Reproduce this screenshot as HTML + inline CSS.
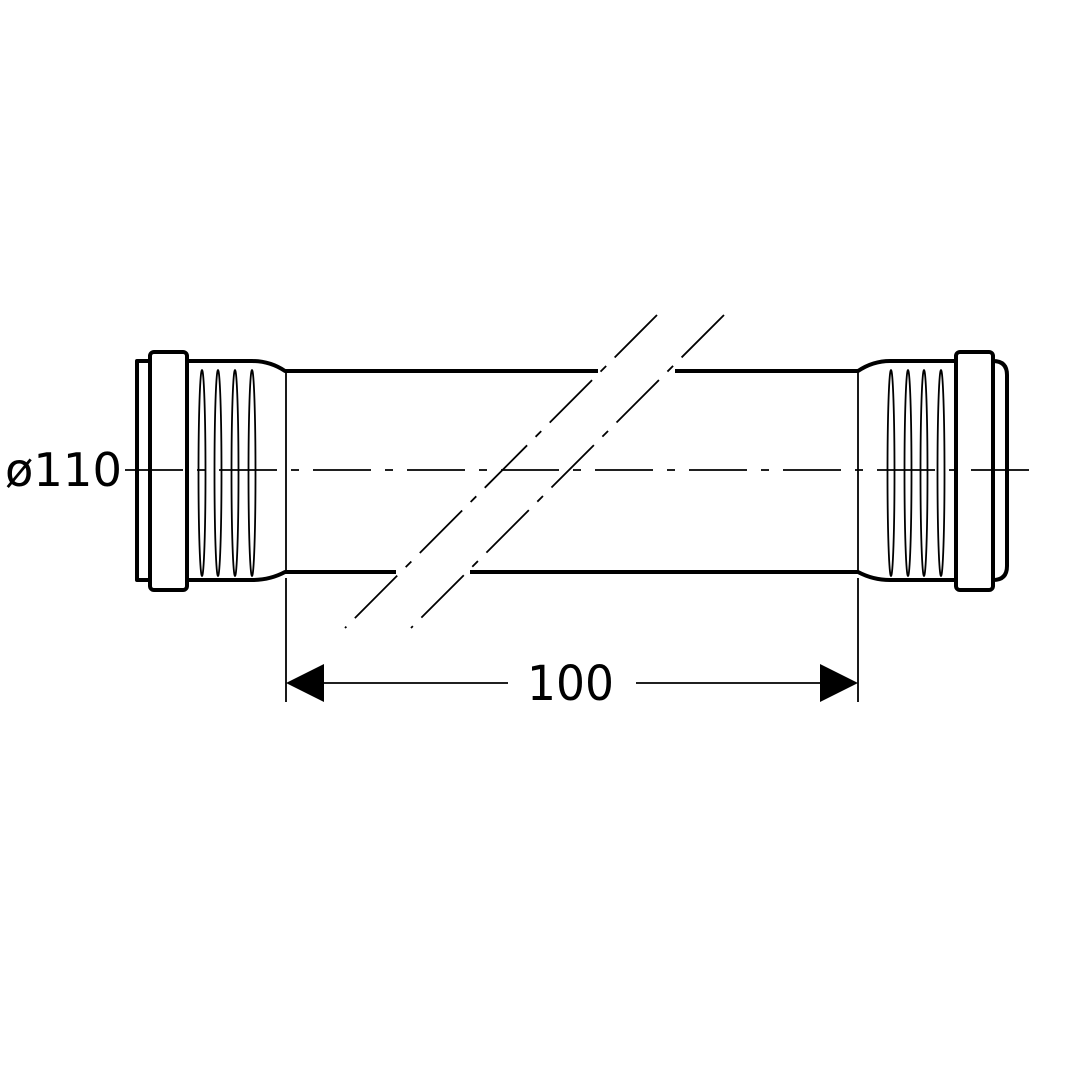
<!DOCTYPE html>
<html><head><style>body{margin:0;background:#fff}svg{display:block}</style></head><body>
<svg width="1080" height="1080" viewBox="0 0 1080 1080" xmlns="http://www.w3.org/2000/svg">
<rect width="1080" height="1080" fill="#fff"/>
<g fill="none" stroke="#000" stroke-linejoin="round">
<path d="M150 361 H137 V580 H150" stroke-width="4"/>
<rect x="150" y="352" width="37" height="238" rx="4" stroke-width="4"/>
<path d="M187 361 H252 Q270 361 285 371 H598" stroke-width="4"/>
<path d="M187 580 H252 Q270 580 285 572 H396" stroke-width="4"/>
<path d="M675 371 H858 Q873 361 890 361 H956" stroke-width="4"/>
<path d="M470 572 H858 Q873 580 890 580 H956" stroke-width="4"/>
<rect x="956" y="352" width="37" height="238" rx="4" stroke-width="4"/>
<path d="M993 361 Q1007 361 1007 375 V566 Q1007 580 993 580" stroke-width="4"/>
<g stroke-width="1.8">
<line x1="286" y1="371" x2="286" y2="572"/>
<line x1="858" y1="371" x2="858" y2="572"/>
<line x1="994" y1="362" x2="994" y2="579"/>
<ellipse cx="202" cy="473" rx="3.5" ry="103"/>
<ellipse cx="218" cy="473" rx="3.5" ry="103"/>
<ellipse cx="235" cy="473" rx="3.5" ry="103"/>
<ellipse cx="252" cy="473" rx="3.5" ry="103"/>
<ellipse cx="891" cy="473" rx="3.5" ry="103"/>
<ellipse cx="908" cy="473" rx="3.5" ry="103"/>
<ellipse cx="924" cy="473" rx="3.5" ry="103"/>
<ellipse cx="941" cy="473" rx="3.5" ry="103"/>
<line x1="125" y1="470" x2="1035" y2="470" stroke-dasharray="58 14 8 14"/>
<line x1="657" y1="315" x2="345" y2="628" stroke-dasharray="60 12 8 12"/>
<line x1="724" y1="315" x2="411" y2="628" stroke-dasharray="60 12 8 12"/>
<line x1="286" y1="578" x2="286" y2="702"/>
<line x1="858" y1="578" x2="858" y2="702"/>
<line x1="320" y1="683" x2="508" y2="683"/>
<line x1="636" y1="683" x2="824" y2="683"/>
</g>
</g>
<polygon points="286,683 324,664 324,702" fill="#000"/>
<polygon points="858,683 820,664 820,702" fill="#000"/>
<text x="527" y="700" font-family="DejaVu Sans, Liberation Sans, sans-serif" font-size="48" textLength="87" lengthAdjust="spacingAndGlyphs">100</text>
<text x="5" y="486" font-family="DejaVu Sans, Liberation Sans, sans-serif" font-size="46" textLength="117" lengthAdjust="spacingAndGlyphs">ø110</text>
</svg>
</body></html>
